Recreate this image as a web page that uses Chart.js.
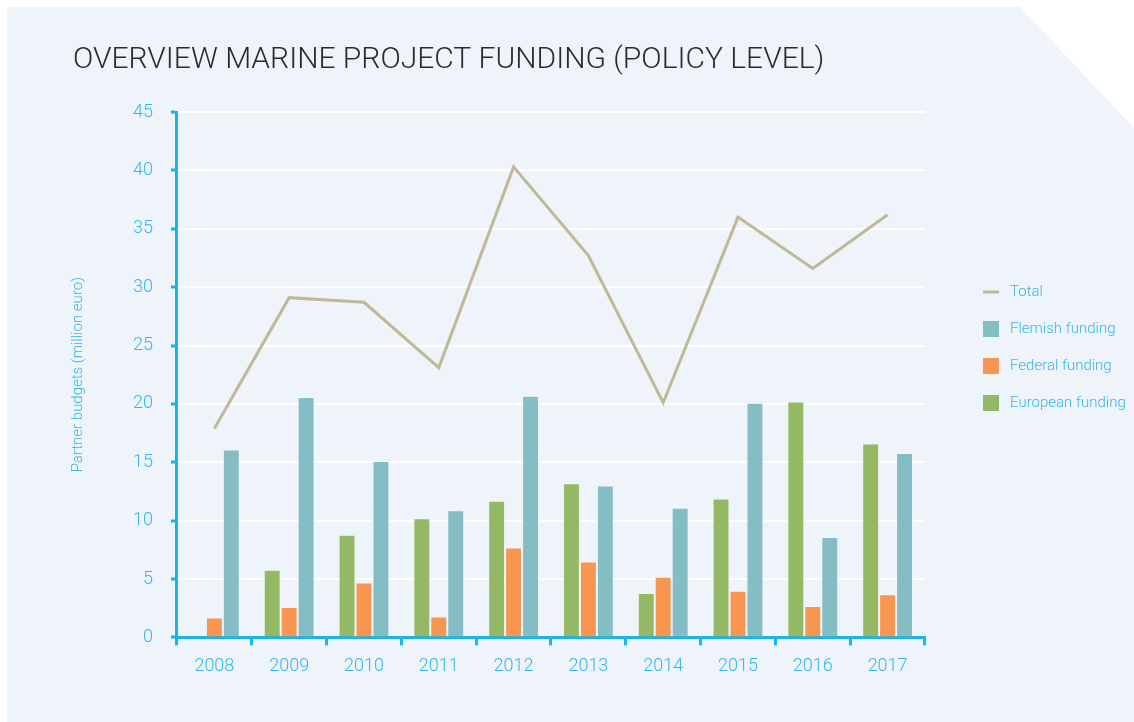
<!DOCTYPE html>
<html>
<head>
<meta charset="utf-8">
<title>Overview marine project funding</title>
<script src="https://cdn.jsdelivr.net/npm/chart.js@4"></script>
<style>
  html, body { margin: 0; padding: 0; background: #ffffff; }
  #wrap { width: 1134px; height: 722px; }
</style>
</head>
<body>
<div id="wrap"><canvas id="mychart" width="1134" height="722"></canvas></div>
<script>
const years = ['2008', '2009', '2010', '2011', '2012', '2013', '2014', '2015', '2016', '2017'];
const totalFunding = [17.9, 29.1, 28.7, 23.1, 40.3, 32.7, 20.1, 36.0, 31.6, 36.2];
const europeanFunding = [null, 5.8, 8.8, 10.2, 11.7, 13.2, 3.8, 11.9, 20.2, 16.6];
const federalFunding = [1.7, 2.6, 4.7, 1.8, 7.7, 6.5, 5.2, 4.0, 2.7, 3.7];
const flemishFunding = [16.1, 20.6, 15.1, 10.9, 20.7, 13.0, 11.1, 20.1, 8.6, 15.8];
const yMin = 0, yMax = 45, yStep = 5;

const blue = '#1cb2ea';
const textBlue = '#33b7eb';

Chart.defaults.font.family = 'Roboto, "Liberation Sans", sans-serif';
Chart.defaults.font.weight = 300;

// light panel with the cut top-right corner
const panel = {
    id: 'panel',
    beforeDraw(chart) {
        const c = chart.ctx;
        c.save();
        c.fillStyle = '#eff3fa';
        c.beginPath();
        c.moveTo(7, 7);
        c.lineTo(1020, 7);
        c.lineTo(chart.width, 128);
        c.lineTo(chart.width, chart.height);
        c.lineTo(7, chart.height);
        c.closePath();
        c.fill();
        c.restore();
    }
};

// legend column to the right of the plot
const sideLegend = {
    id: 'sideLegend',
    afterDraw(chart) {
        const c = chart.ctx;
        const area = chart.chartArea;
        const x = area.right + 58;
        let y = area.top + 180;
        const items = [0, 3, 2, 1].map(i => chart.data.datasets[i]);
        c.save();
        c.font = '300 15px Roboto, "Liberation Sans", sans-serif';
        c.textBaseline = 'middle';
        items.forEach(ds => {
            if (ds.type === 'line') {
                c.strokeStyle = ds.borderColor;
                c.lineWidth = 3;
                c.beginPath();
                c.moveTo(x, y);
                c.lineTo(x + 16, y);
                c.stroke();
            } else {
                c.fillStyle = ds.backgroundColor;
                c.fillRect(x, y - 8, 16, 16);
            }
            c.fillStyle = textBlue;
            c.fillText(ds.label, x + 27, y);
            y += 37;
        });
        c.restore();
    }
};

const ctx = document.getElementById('mychart');
var chart = new Chart(ctx, {
    type: 'bar',
    data: {
        labels: years,
        datasets: [
            {
                type: 'line',
                label: 'Total',
                data: totalFunding,
                borderColor: '#bfba95',
                borderWidth: 3,
                pointRadius: 0,
                tension: 0,
            },
            {
                label: 'European funding',
                data: europeanFunding,
                backgroundColor: '#93b965',
                borderColor: 'rgba(255,255,255,0.35)',
                borderWidth: 1,
            },
            {
                label: 'Federal funding',
                data: federalFunding,
                backgroundColor: '#f69651',
                borderColor: 'rgba(255,255,255,0.35)',
                borderWidth: 1,
            },
            {
                label: 'Flemish funding',
                data: flemishFunding,
                backgroundColor: '#85bdc5',
                borderColor: 'rgba(255,255,255,0.35)',
                borderWidth: 1,
            },
        ],
    },
    options: {
        responsive: false,
        animation: false,
        datasets: {
            bar: {
                barPercentage: 1,
                categoryPercentage: 0.68,
            },
        },
        layout: {
            padding: {
                top: 0,
                left: 73,
                right: 209,
                bottom: 35,
            },
        },
        scales: {
            x: {
                grid: {
                    drawOnChartArea: false,
                    tickLength: 8,
                    tickWidth: 3,
                    tickColor: blue,
                },
                border: {
                    color: blue,
                    width: 3,
                },
                ticks: {
                    padding: 10,
                    color: textBlue,
                    font: {
                        size: 18,
                    },
                },
            },
            y: {
                min: yMin,
                max: yMax,
                grid: {
                    color: '#ffffff',
                    lineWidth: 2,
                    tickLength: 6,
                    tickWidth: 3,
                    tickColor: blue,
                },
                border: {
                    color: blue,
                    width: 3,
                },
                ticks: {
                    stepSize: yStep,
                    padding: 18,
                    color: textBlue,
                    font: {
                        size: 18,
                    },
                },
                title: {
                    display: true,
                    text: 'Partner budgets (million euro)',
                    color: textBlue,
                    padding: { top: -4, bottom: 28 },
                    font: {
                        size: 15,
                    },
                },
            }
        },
        plugins: {
            title: {
                display: true,
                text: 'OVERVIEW MARINE PROJECT FUNDING (POLICY LEVEL)',
                align: 'start',
                color: '#2b2b2b',
                padding: { top: 42, bottom: 34 },
                font: {
                    size: 30,
                    weight: 300,
                },
            },
            legend: {
                display: false,
            },
            tooltip: {
                enabled: false,
            },
        },
    },
    plugins: [panel, sideLegend],
});
</script>
</body>
</html>
